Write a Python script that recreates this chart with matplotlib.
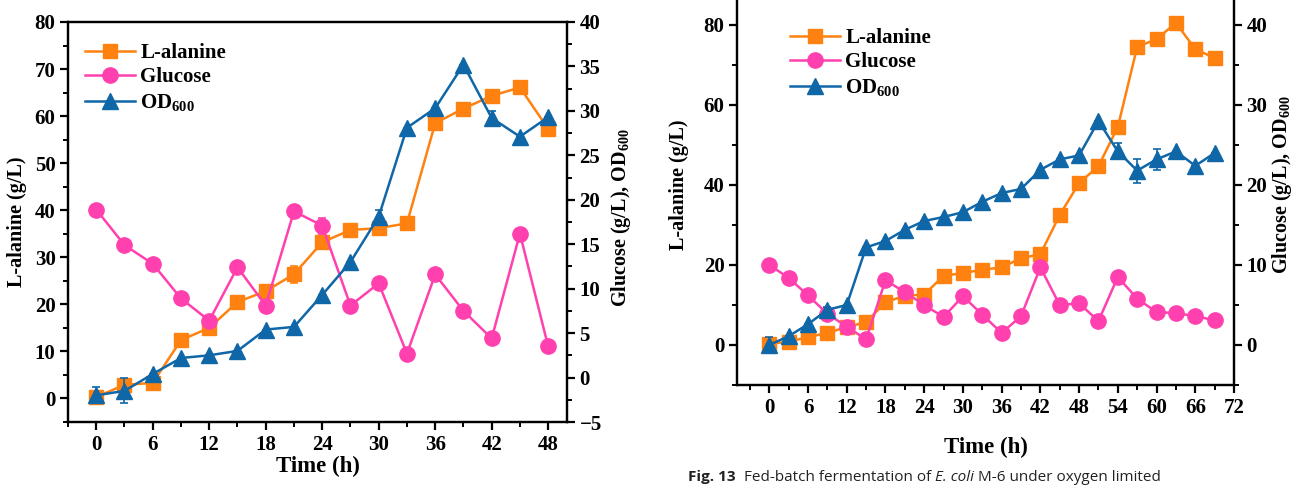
import matplotlib
matplotlib.use("Agg")
import matplotlib.pyplot as plt
from matplotlib.ticker import MultipleLocator

plt.rcParams["font.family"] = "Liberation Serif"
plt.rcParams["font.weight"] = "bold"
plt.rcParams["mathtext.fontset"] = "custom"
plt.rcParams["mathtext.rm"] = "Liberation Serif:bold"
plt.rcParams["mathtext.bf"] = "Liberation Serif:bold"

ORANGE = "#FF8210"
PINK = "#FF40AE"
BLUE = "#0F67A8"

# ---- panel A (0-48 h) ----
time_a = [0, 3, 6, 9, 12, 15, 18, 21, 24, 27, 30, 33, 36, 39, 42, 45, 48]
ala_a = [0.3, 2.9, 3.3, 12.4, 15.0, 20.5, 22.8, 26.4, 33.2, 35.8, 36.2, 37.2,
         58.5, 61.6, 64.3, 66.1, 57.3]
ala_a_err = [0, 0, 0, 0, 0.8, 0, 0, 1.8, 0, 0, 0, 0, 0, 0, 0, 0, 0]
glc_a = [18.9, 14.9, 12.8, 8.9, 6.4, 12.4, 8.1, 18.7, 17.1, 8.1, 10.6, 2.7,
         11.6, 7.5, 4.4, 16.2, 3.5]
glc_a_err = [0, 0, 0, 0, 0, 0, 0, 0, 0.9, 0, 0, 0, 0, 0, 0, 0, 0]
od_a = [-2.0, -1.5, 0.4, 2.2, 2.5, 3.0, 5.4, 5.7, 9.3, 13.0, 18.1, 28.1,
        30.3, 35.2, 29.2, 27.1, 29.3]
od_a_err = [0.9, 1.4, 0, 0, 0, 0, 0, 0, 0, 0, 0.7, 0, 0, 0, 0.8, 0, 0]

# ---- panel B (0-69 h) ----
time_b = [0, 3, 6, 9, 12, 15, 18, 21, 24, 27, 30, 33, 36, 39, 42, 45, 48, 51,
          54, 57, 60, 63, 66, 69]
ala_b = [0.3, 0.8, 2.0, 3.0, 4.5, 5.7, 10.7, 12.3, 12.6, 17.3, 18.0, 18.8,
         19.4, 21.7, 22.7, 32.5, 40.5, 44.7, 54.5, 74.5, 76.5, 80.5, 74.0, 71.7]
ala_b_err = [0] * len(time_b)
glc_b = [10.0, 8.4, 6.2, 3.9, 2.3, 0.7, 8.1, 6.6, 5.0, 3.5, 6.1, 3.8, 1.5,
         3.6, 9.7, 5.0, 5.2, 3.0, 8.5, 5.8, 4.1, 4.0, 3.6, 3.1]
glc_b_err = [0, 0, 0, 0.5, 0, 0, 0, 0.5, 0, 0, 0, 0, 0, 0, 0, 0, 0, 0, 0, 0,
             0, 0, 0, 0]
od_b = [0.0, 1.1, 2.6, 4.4, 5.0, 12.2, 13.0, 14.4, 15.5, 16.0, 16.6, 17.9,
        19.0, 19.5, 21.9, 23.2, 23.7, 28.0, 24.2, 21.8, 23.2, 24.2, 22.4, 24.0]
od_b_err = [1.0, 0, 0, 0.4, 0, 0, 0, 0, 0, 0, 0, 0, 0, 0, 0, 0, 0, 0, 1.0,
            1.5, 1.3, 0, 0, 0]

W, H = 1298, 486
TICK_FS = 15
LABEL_FS = 14.5


def style_axis(ax):
    for sp in ax.spines.values():
        sp.set_linewidth(1.6)
    ax.tick_params(which="major", direction="out", length=6, width=1.6,
                   labelsize=TICK_FS, pad=3)
    ax.tick_params(which="minor", direction="out", length=3.5, width=1.4)


def draw_series(ax, t, y, err, color, marker, ms, z):
    ax.errorbar(t, y, yerr=err, fmt="none", ecolor=color, capsize=3,
                elinewidth=1.2, capthick=1.2, zorder=z)
    line, = ax.plot(t, y, color=color, lw=1.8, marker=marker, ms=ms, zorder=z)
    return line


def draw_panel(rect, t, ala, ala_err, glc, glc_err, od, od_err,
               xlim, ylim, y2lim, ymaj, y2maj, xmax_tick, legend_pos,
               xlabel_y):
    ax = fig.add_axes(rect)
    ax2 = ax.twinx()

    h1 = draw_series(ax, t, ala, ala_err, ORANGE, "s", 10, 3)
    h2 = draw_series(ax2, t, glc, glc_err, PINK, "o", 11, 3)
    h3 = draw_series(ax2, t, od, od_err, BLUE, "^", 12, 4)

    ax.set_xlim(*xlim)
    ax.set_ylim(*ylim)
    ax2.set_ylim(*y2lim)
    ax.set_xticks(range(0, xmax_tick + 1, 6))
    ax.xaxis.set_minor_locator(MultipleLocator(3))
    ax.yaxis.set_major_locator(MultipleLocator(ymaj))
    ax.yaxis.set_minor_locator(MultipleLocator(ymaj / 2))
    ax2.yaxis.set_major_locator(MultipleLocator(y2maj))
    ax2.yaxis.set_minor_locator(MultipleLocator(y2maj / 2))

    style_axis(ax)
    style_axis(ax2)

    ax.set_xlabel("Time (h)", fontsize=16.5, fontweight="bold")
    ax.xaxis.set_label_coords(0.5, xlabel_y)
    ax.set_ylabel("L-alanine (g/L)", fontsize=LABEL_FS, fontweight="bold")
    ax2.set_ylabel(r"Glucose (g/L), OD$_{600}$", fontsize=LABEL_FS,
                   fontweight="bold")

    ax2.legend([h1, h2, h3], ["L-alanine", "Glucose", r"OD$_{600}$"],
               loc="upper left", bbox_to_anchor=legend_pos,
               frameon=False, fontsize=15, handlelength=2.4,
               handletextpad=0.25, labelspacing=0.22, borderaxespad=0,
               borderpad=0)
    return ax, ax2


fig = plt.figure(figsize=(W / 100, H / 100), dpi=100)

axA, axA2 = draw_panel(
    [68 / W, (H - 422) / H, 499 / W, 400 / H],
    time_a, ala_a, ala_a_err, glc_a, glc_a_err, od_a, od_a_err,
    xlim=(-3, 50), ylim=(-5, 80), y2lim=(-5, 40), ymaj=10, y2maj=5,
    xmax_tick=48, legend_pos=(0.034, 0.948), xlabel_y=-0.085,
)
axA.yaxis.set_label_coords(-0.082, 0.5)
axA2.yaxis.set_label_coords(1.085, 0.51)

axB, axB2 = draw_panel(
    [737 / W, (H - 385) / H, 497 / W, 400 / H],
    time_b, ala_b, ala_b_err, glc_b, glc_b_err, od_b, od_b_err,
    xlim=(-5, 72), ylim=(-10, 90), y2lim=(-5, 45), ymaj=20, y2maj=10,
    xmax_tick=72, legend_pos=(0.107, 0.893), xlabel_y=-0.13,
)
axB.yaxis.set_label_coords(-0.097, 0.5)
axB2.yaxis.set_label_coords(1.072, 0.5)

# caption line below panel B
cap_y = 1 - 477 / H
renderer = fig.canvas.get_renderer()
x = 688 / W
parts = [("Fig. 13", "bold", "normal"),
         ("  Fed-batch fermentation of ", "normal", "normal"),
         ("E. coli", "normal", "italic"),
         (" M-6 under oxygen limited", "normal", "normal")]
for s, w, st in parts:
    t = fig.text(x, cap_y, s, fontsize=11, family="Open Sans", fontweight=w,
                 fontstyle=st, color="#222222", va="center", ha="left")
    bb = t.get_window_extent(renderer=renderer)
    x += bb.width / W

fig.savefig("out.png", dpi=100)
